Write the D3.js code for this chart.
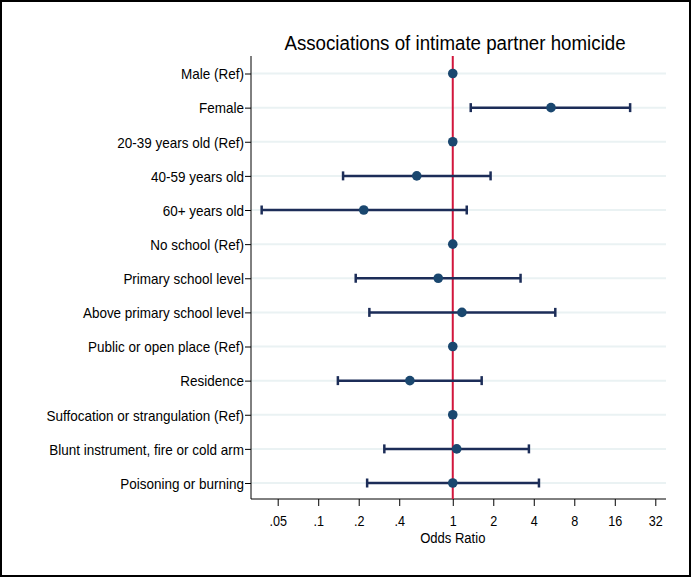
<!DOCTYPE html>
<html>
<head>
<meta charset="utf-8">
<script src="https://cdn.jsdelivr.net/npm/d3@7"></script>
<style>
  body { margin: 0; background: #fff; }
  text { font-family: "Liberation Sans", Arial, sans-serif; }
</style>
</head>
<body>
<script>
// rows, top to bottom
var labels = ["Male (Ref)", "Female", "20-39 years old (Ref)", "40-59 years old", "60+ years old",
  "No school (Ref)", "Primary school level", "Above primary school level", "Public or open place (Ref)",
  "Residence", "Suffocation or strangulation (Ref)", "Blunt instrument, fire or cold arm", "Poisoning or burning"];
var oddsRatio = [1, 5.37, 1, 0.54, 0.218, 1, 0.78, 1.17, 1, 0.48, 1, 1.07, 1.0];
var ciLow     = [null, 1.36, null, 0.153, 0.038, null, 0.19, 0.24, null, 0.14, null, 0.31, 0.231];
var ciHigh    = [null, 20.8, null, 1.91, 1.27, null, 3.19, 5.78, null, 1.64, null, 3.68, 4.37];
var xTicks = [0.05, 0.1, 0.2, 0.4, 1, 2, 4, 8, 16, 32];
var xTickLabels = [".05", ".1", ".2", ".4", "1", "2", "4", "8", "16", "32"];

var W = 691, H = 577;
var plot = {left: 251, right: 666, top: 56, bottom: 499};
var squeeze = 0.9; // stata text is a bit narrower than Arial

var svg = d3.select("body").append("svg").attr("width", W).attr("height", H);

// outer frame
svg.append("rect").attr("x", 1).attr("y", 1).attr("width", W - 2).attr("height", H - 2)
  .attr("fill", "#fff").attr("stroke", "#000").attr("stroke-width", 2);

var x = d3.scaleLog().base(2).domain([0.05, 32]).range([277.7, 655.3]);
var y = d3.scalePoint().domain(d3.range(labels.length)).range([73.5, 483]);

// gridlines
svg.append("g").selectAll("line").data(d3.range(labels.length)).join("line")
  .attr("x1", plot.left).attr("x2", plot.right)
  .attr("y1", function(d) { return y(d); }).attr("y2", function(d) { return y(d); })
  .attr("stroke", "#eaf2f3").attr("stroke-width", 2);

// y axis
var yAxis = svg.append("g").attr("transform", "translate(" + plot.left + ",0)")
  .call(d3.axisLeft(y).tickSize(6).tickFormat(function(i) { return labels[i]; }));
yAxis.select(".domain").remove();
yAxis.selectAll("line").attr("stroke", "#000");
yAxis.selectAll("text").attr("font-size", 15).attr("fill", "#000")
  .attr("font-family", "Liberation Sans, Arial, sans-serif")
  .attr("x", 0).attr("dy", "0.35em")
  .attr("transform", "translate(-7,0) scale(" + squeeze + ",1)");
svg.append("line").attr("x1", plot.left).attr("x2", plot.left).attr("y1", plot.top).attr("y2", plot.bottom)
  .attr("stroke", "#000").attr("stroke-width", 1);

// x axis
var xAxis = svg.append("g").attr("transform", "translate(0," + plot.bottom + ")")
  .call(d3.axisBottom(x).tickValues(xTicks).tickSize(7).tickPadding(10)
    .tickFormat(function(d, i) { return xTickLabels[i]; }));
xAxis.select(".domain").remove();
xAxis.selectAll("line").attr("stroke", "#000");
xAxis.selectAll("text").attr("font-size", 14).attr("fill", "#000")
  .attr("font-family", "Liberation Sans, Arial, sans-serif")
  .attr("transform", "scale(" + squeeze + ",1)");
svg.append("line").attr("x1", plot.left).attr("x2", plot.right).attr("y1", plot.bottom).attr("y2", plot.bottom)
  .attr("stroke", "#000").attr("stroke-width", 1);

svg.append("text").attr("text-anchor", "middle").attr("font-size", 14.5)
  .attr("transform", "translate(" + x(1) + ",543) scale(" + squeeze + ",1)")
  .text("Odds Ratio");

// reference line at OR = 1
svg.append("line").attr("x1", x(1)).attr("x2", x(1)).attr("y1", plot.top).attr("y2", plot.bottom)
  .attr("stroke", "#d2163c").attr("stroke-width", 2);

// confidence intervals
var rows = d3.range(labels.length).filter(function(i) { return ciLow[i] != null; });
var ci = svg.append("g").attr("stroke", "#1c2d58").attr("stroke-width", 2.5);
ci.selectAll(".bar").data(rows).join("line")
  .attr("x1", function(i) { return x(ciLow[i]); }).attr("x2", function(i) { return x(ciHigh[i]); })
  .attr("y1", function(i) { return y(i); }).attr("y2", function(i) { return y(i); });
ci.selectAll(".capL").data(rows).join("line")
  .attr("x1", function(i) { return x(ciLow[i]); }).attr("x2", function(i) { return x(ciLow[i]); })
  .attr("y1", function(i) { return y(i) - 4.5; }).attr("y2", function(i) { return y(i) + 4.5; });
ci.selectAll(".capR").data(rows).join("line")
  .attr("x1", function(i) { return x(ciHigh[i]); }).attr("x2", function(i) { return x(ciHigh[i]); })
  .attr("y1", function(i) { return y(i) - 4.5; }).attr("y2", function(i) { return y(i) + 4.5; });

// point estimates
svg.append("g").selectAll("circle").data(d3.range(labels.length)).join("circle")
  .attr("cx", function(i) { return x(oddsRatio[i]); }).attr("cy", function(i) { return y(i); })
  .attr("r", 4.8).attr("fill", "#1a476f");

// title
svg.append("text").attr("text-anchor", "middle").attr("font-size", 19.5).attr("fill", "#000")
  .attr("transform", "translate(455,49.5) scale(0.96,1)")
  .text("Associations of intimate partner homicide");
</script>
</body>
</html>
